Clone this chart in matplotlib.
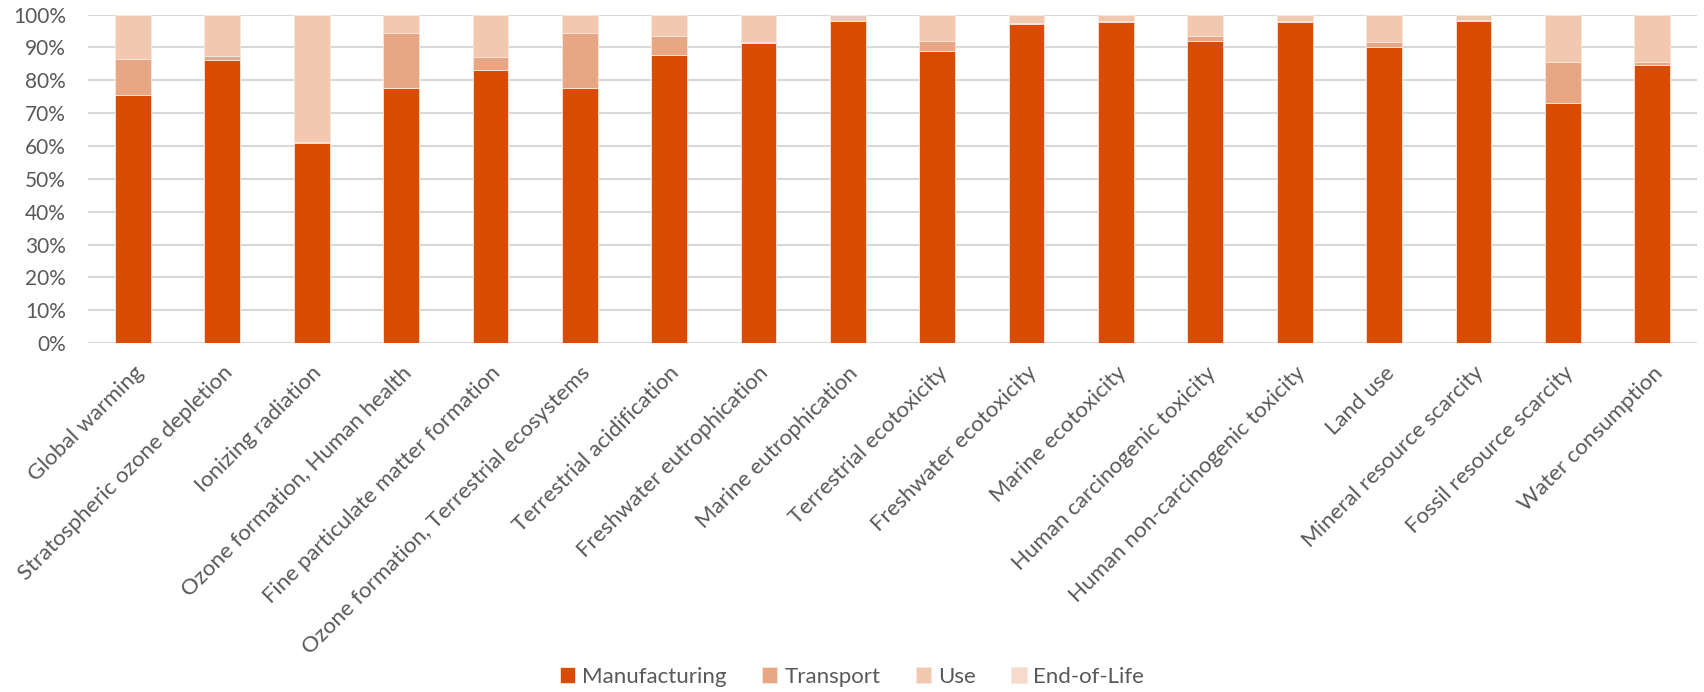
import matplotlib.pyplot as plt
import numpy as np

plt.rcParams['font.family'] = ['Lato', 'DejaVu Sans']

# impact categories
categories = ['Global warming', 'Stratospheric ozone depletion', 'Ionizing radiation',
              'Ozone formation, Human health', 'Fine particulate matter formation',
              'Ozone formation, Terrestrial ecosystems', 'Terrestrial acidification',
              'Freshwater eutrophication', 'Marine eutrophication', 'Terrestrial ecotoxicity',
              'Freshwater ecotoxicity', 'Marine ecotoxicity', 'Human carcinogenic toxicity',
              'Human non-carcinogenic toxicity', 'Land use', 'Mineral resource scarcity',
              'Fossil resource scarcity', 'Water consumption']

# shares in %
manufacturing = [75.6, 86.1, 60.8, 77.8, 83.1, 77.8, 87.6, 91.4, 98.0, 88.8,
                 97.0, 97.8, 91.9, 97.8, 90.0, 98.1, 73.2, 84.7]
transport = [11.0, 1.4, 0.3, 16.7, 4.1, 16.5, 5.8, 0.3, 0.1, 3.1,
             0.3, 0.2, 1.7, 0.2, 1.5, 0.2, 12.5, 1.0]
end_of_life = [0.1, 0.1, 0.1, 0.1, 0.1, 0.1, 0.1, 0.1, 0.1, 0.1,
               0.1, 0.1, 0.1, 0.1, 0.1, 0.1, 0.1, 0.1]
use = [100 - m - t - e for m, t, e in zip(manufacturing, transport, end_of_life)]

series = ['Manufacturing', 'Transport', 'Use', 'End-of-Life']
colors = ['#D94B00', '#E8A784', '#F2C8B0', '#F7DACB']

fig = plt.figure(figsize=(17.04, 6.92), dpi=100)
ax = fig.add_axes([0.0518, 0.504, 0.944, 0.475])

x = np.arange(len(categories))
bottom = np.zeros(len(categories))
for name, vals, c in zip(series, [manufacturing, transport, use, end_of_life], colors):
    vals = np.array(vals) / 100
    ax.bar(x, vals, 0.40, bottom=bottom, color=c, label=name, zorder=3,
           edgecolor='#FBE6DA', linewidth=0.6)
    bottom += vals

ax.set_xlim(-0.5, len(categories) - 0.5)
ax.set_ylim(0, 1)
ax.set_yticks(np.arange(0, 1.01, 0.1))
ax.set_yticklabels(['%d%%' % v for v in range(0, 101, 10)])
ax.yaxis.grid(True, color='#D9D9D9', linewidth=1.5, zorder=0)
for s in ax.spines.values():
    s.set_visible(False)
ax.tick_params(axis='both', length=0, colors='#595959')
ax.tick_params(axis='y', pad=16, labelsize=15)
ax.set_xticks(x)
ax.set_xticklabels(categories, rotation=45, ha='right', rotation_mode='anchor')
ax.tick_params(axis='x', pad=14, labelsize=16)

leg = fig.legend(loc='center', bbox_to_anchor=(0.5, 0.022), ncol=4, frameon=False,
                 fontsize=16, handlelength=0.7, handleheight=0.7, columnspacing=1.6,
                 handletextpad=0.3)
for t in leg.get_texts():
    t.set_color('#595959')

fig.savefig('out.png', dpi=100)
